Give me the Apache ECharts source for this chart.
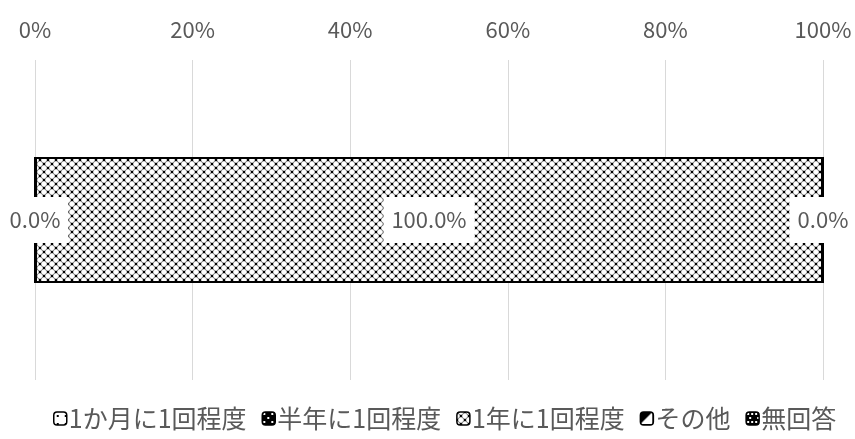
<!DOCTYPE html>
<html><head><meta charset="utf-8">
<script src="https://cdn.jsdelivr.net/npm/echarts@6/dist/echarts.min.js"></script>
<style>html,body{margin:0;padding:0;background:#fff}#c{width:855px;height:439px}</style>
</head><body><div id="c"></div>
<script>
const categories = [''];
const seriesNames = ['1か月に1回程度', '半年に1回程度', '1年に1回程度', 'その他', '無回答'];
const seriesValues = [[0.0], [0.0], [100.0], [0.0], [0.0]];
const tickLabels = ['0%', '20%', '40%', '60%', '80%', '100%'];
const showLabel = [true, false, true, false, true];

function tile(draw, s) {
  const c = document.createElement('canvas');
  c.width = s; c.height = s;
  const g = c.getContext('2d');
  draw(g, s);
  return { image: c, repeat: 'repeat' };
}
const patterns = [
  tile((g, s) => { g.fillStyle = '#fff'; g.fillRect(0, 0, s, s); g.fillStyle = '#000'; g.fillRect(3, 3, 2, 2); }, 8),
  tile((g, s) => { g.fillStyle = '#000'; g.fillRect(0, 0, s, s); g.fillStyle = '#fff'; g.fillRect(1, 1, 2, 2); g.fillRect(5, 5, 2, 2); }, 8),
  tile((g, s) => {
    g.fillStyle = '#fff'; g.fillRect(0, 0, s, s);
    const h = s / 2;
    g.strokeStyle = '#000'; g.lineWidth = 1;
    g.beginPath();
    for (let k = -2; k <= 4; k++) { g.moveTo(k * h, 0); g.lineTo(k * h + s, s); g.moveTo(k * h, 0); g.lineTo(k * h - s, s); }
    g.stroke();
    const r = 2.9;
    for (let ix = 0; ix <= 4; ix++) for (let iy = 0; iy <= 4; iy++) {
      if ((ix + iy) % 2 === 1) {
        const x = ix * h / 2, y = iy * h / 2;
        g.fillStyle = '#fff'; g.beginPath(); g.arc(x, y, r, 0, Math.PI * 2); g.fill();
        g.strokeStyle = 'rgba(0,0,0,0.45)'; g.lineWidth = 0.7; g.beginPath(); g.arc(x, y, r, 0, Math.PI * 2); g.stroke();
      }
    }
    g.fillStyle = '#000';
    [[0, 0], [s, 0], [0, s], [s, s], [h, h]].forEach(p => g.fillRect(p[0] - 1, p[1] - 1, 2, 2));
  }, 16),
  tile((g, s) => { g.fillStyle = '#000'; g.fillRect(0, 0, s, s); g.fillStyle = '#fff'; g.beginPath(); g.moveTo(s, 0); g.lineTo(s, s); g.lineTo(0, s); g.fill(); }, 12),
  tile((g, s) => { g.fillStyle = '#000'; g.fillRect(0, 0, s, s); g.fillStyle = '#fff'; g.fillRect(1, 1, 2, 2); g.fillRect(5, 1, 2, 2); g.fillRect(3, 5, 2, 2); }, 8)
];

const chart = echarts.init(document.getElementById('c'), null, { renderer: 'canvas' });
const font = 'Noto Sans CJK JP, Noto Sans, sans-serif';
chart.setOption({
  animation: false,
  textStyle: { fontFamily: font },
  grid: { left: 35, right: 32, top: 60, bottom: 59, containLabel: false },
  xAxis: {
    type: 'value', min: 0, max: 100, interval: 20, position: 'top',
    axisLine: { show: false }, axisTick: { show: false },
    splitLine: { show: true, lineStyle: { color: '#d9d9d9', width: 1 } },
    axisLabel: { margin: 19, fontSize: 22, color: '#595959', fontFamily: font,
      formatter: (v) => tickLabels[Math.round(v / 20)] }
  },
  yAxis: {
    type: 'category', data: categories,
    axisLine: { show: false }, axisTick: { show: false }, axisLabel: { show: false }
  },
  legend: {
    bottom: 3, left: 48, itemWidth: 13, itemHeight: 13, itemGap: 15,
    textStyle: { fontSize: 25, color: '#595959', fontFamily: font, padding: [0, 0, 0, -3] },
    data: seriesNames.map((n, i) => ({ name: n, itemStyle: { color: patterns[i], borderColor: '#000', borderWidth: 1.5 } }))
  },
  series: seriesNames.map((n, i) => ({
    name: n, type: 'bar', stack: 'total', barWidth: 126,
    data: seriesValues[i],
    itemStyle: { color: patterns[i], borderColor: '#000', borderWidth: 2 },
    label: {
      show: showLabel[i], position: 'inside', fontSize: 22, color: '#595959', fontFamily: font,
      backgroundColor: '#fff', padding: [13, 8, 11, 8],
      formatter: (p) => p.value.toFixed(1) + '%'
    },
    labelLayout: { hideOverlap: false }
  }))
});
</script></body></html>
